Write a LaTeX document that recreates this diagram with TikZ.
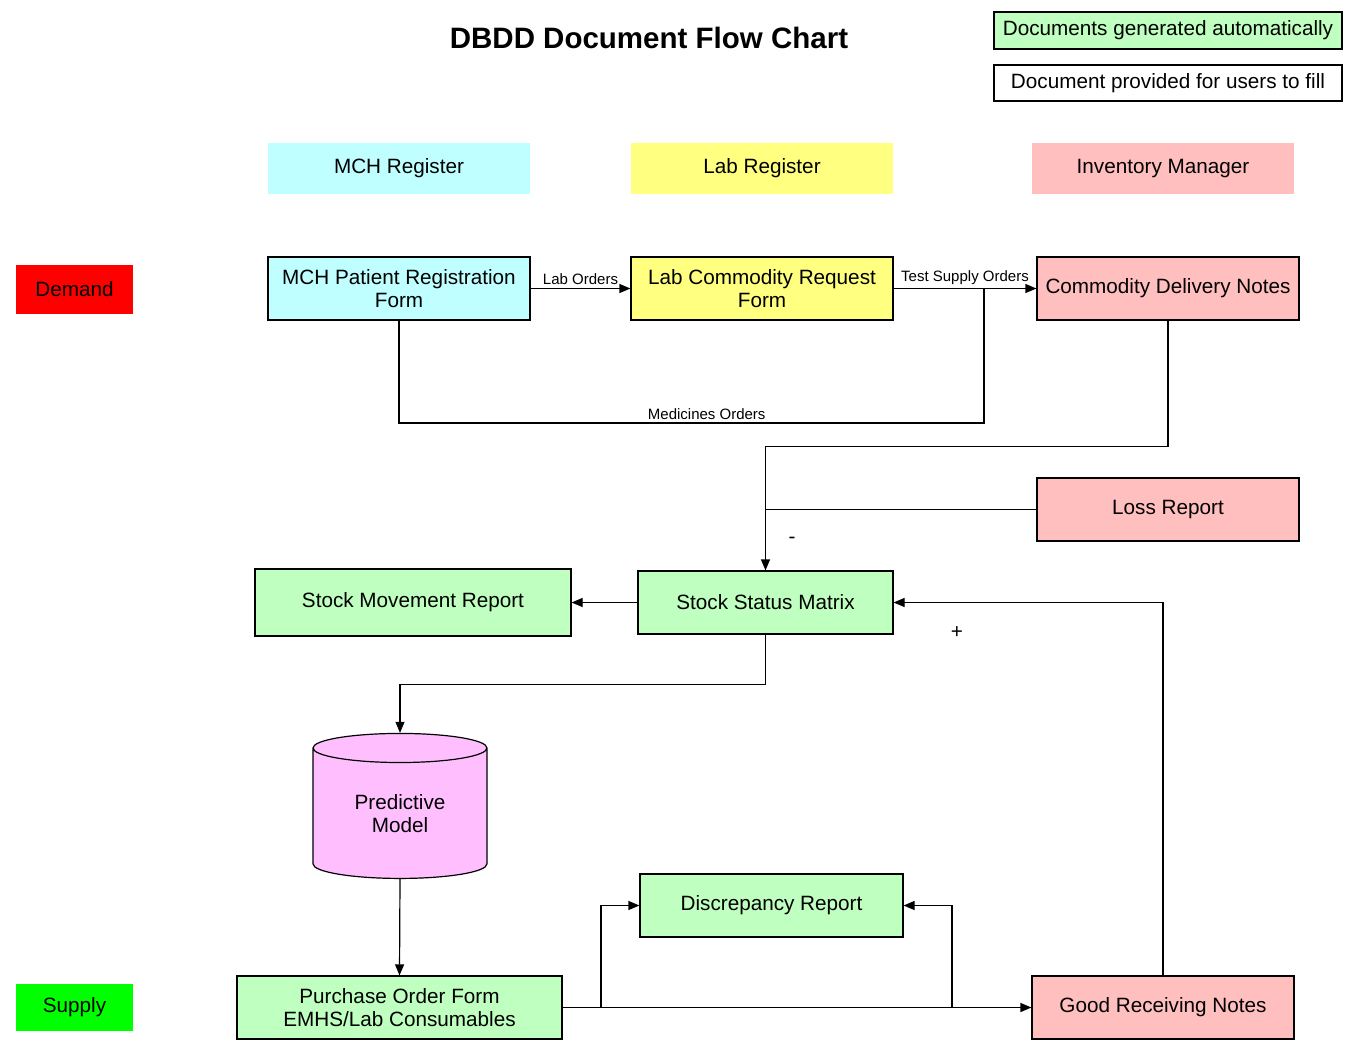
\documentclass[tikz,border=0pt]{standalone}
\usepackage{fontspec}
\setmainfont{Liberation Sans}
\usepackage{tikz}
\usetikzlibrary{arrows.meta,shapes.geometric}
\definecolor{mchcyan}{RGB}{191,255,255}
\definecolor{labyellow}{RGB}{255,255,128}
\definecolor{invpink}{RGB}{255,191,191}
\definecolor{autogreen}{RGB}{191,255,191}
\definecolor{modelpink}{RGB}{255,191,255}
\definecolor{demandred}{RGB}{255,0,0}
\definecolor{supplygreen}{RGB}{0,255,0}

\begin{document}
\begin{tikzpicture}[x=1pt,y=-1pt,>={Triangle[length=11pt,width=9pt]},
  font=\fontsize{20.7}{23}\selectfont,
  every node/.style={inner sep=0pt,align=center},
  head/.style={minimum width=262pt,minimum height=51pt},
  doc/.style={draw,line width=1.2pt,minimum width=262pt,minimum height=63pt},
  flow/.style={->,line width=1.2pt},
  link/.style={line width=1.2pt},
  lbl/.style={font=\fontsize{15}{17}\selectfont,inner sep=3pt}]
\useasboundingbox (0,0) rectangle (1345,1045);
\fill[white] (0,0) rectangle (1345,1045);
% title and legend
\node[font=\fontsize{29.5}{32}\selectfont\bfseries] (title) at (649,38) {DBDD Document Flow Chart};
\node[doc,fill=autogreen,minimum width=348pt,minimum height=37pt] (legauto) at (1168,30.5) {Documents generated automatically};
\node[doc,fill=white,minimum width=348pt,minimum height=36pt] (legfill) at (1168,83) {Document provided for users to fill};
% column heads
\node[head,fill=mchcyan] (mchreg) at (399,168.5) {MCH Register};
\node[head,fill=labyellow] (labreg) at (762,168.5) {Lab Register};
\node[head,fill=invpink] (invmgr) at (1163,168.5) {Inventory Manager};
\node[fill=demandred,minimum width=117pt,minimum height=49pt] (demand) at (74.5,289.5) {Demand};
\node[fill=supplygreen,minimum width=117pt,minimum height=47pt] (supply) at (74.5,1007.5) {Supply};
% documents
\node[doc,fill=mchcyan] (mchform) at (399,288.5) {MCH Patient Registration\\Form};
\node[doc,fill=labyellow] (labform) at (762,288.5) {Lab Commodity Request\\Form};
\node[doc,fill=invpink] (delivery) at (1168,288.5) {Commodity Delivery Notes};
\node[doc,fill=invpink] (loss) at (1168,509.5) {Loss Report};
\node[doc,fill=autogreen,minimum width=255pt] (ssm) at (765.5,602.5) {Stock Status Matrix};
\node[doc,fill=autogreen,minimum width=316pt,minimum height=67pt] (smr) at (413,602.5) {Stock Movement Report};
\node[draw,line width=1.2pt,fill=modelpink,cylinder,shape border rotate=90,aspect=0.32,
  minimum width=174pt,minimum height=145pt] (model) at (400,813.5) {Predictive\\Model};
\node[doc,fill=autogreen,minimum width=325pt] (po) at (399.5,1007.5) {Purchase Order Form\\EMHS/Lab Consumables};
\node[doc,fill=autogreen,minimum width=263pt] (disc) at (771.5,905.5) {Discrepancy Report};
\node[doc,fill=invpink] (grn) at (1163,1007.5) {Good Receiving Notes};
% junctions
\coordinate (tsjoin) at (984,288.5);
\coordinate (medbend) at (984,423);
\coordinate (pojoin) at (601,1007.5);
\coordinate (grnjoin) at (952,1007.5);
% connectors
\draw[flow] (mchform) -- (labform) node[lbl,midway,above] {Lab Orders};
\draw[flow] (labform) -- (delivery) node[lbl,midway,above] {Test Supply Orders};
\draw[link] (mchform.south) |- (medbend) node[lbl,pos=0.763,above] {Medicines Orders} -- (tsjoin);
\draw[flow] (delivery.south) -- ++(0,126) -| (ssm.north);
\draw[link] (loss.west) -- (loss.west -| ssm.north);
\node (minus) at (792,540) {-};
\draw[flow] (ssm) -- (smr);
\draw[flow] (grn.north) |- (ssm.east);
\node (plus) at (957,633) {+};
\draw[flow] (ssm.south) -- ++(0,50) -| (model.north);
\draw[flow] (model.south) -- (po.north);
\draw[flow] (po) -- (grn);
\draw[flow] (pojoin) |- (disc.west);
\draw[flow] (grnjoin) |- (disc.east);
\end{tikzpicture}
\end{document}
